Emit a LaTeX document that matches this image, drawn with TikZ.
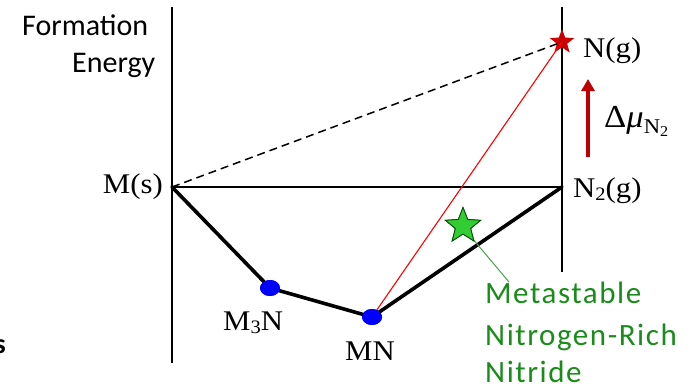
\documentclass[tikz,border=0pt]{standalone}
\usepackage{fontspec}
\setmainfont{Liberation Serif}[FakeStretch=1.08]
\newfontfamily\carl{Carlito}
\newfontfamily\carlsp{Carlito}[LetterSpace=5]
\usetikzlibrary{shapes.geometric,arrows.meta}
\definecolor{dotblue}{HTML}{0000FF}
\definecolor{arrowred}{HTML}{C00000}
\definecolor{starred}{HTML}{CC0000}
\definecolor{stargreen}{HTML}{33CC33}
\definecolor{textgreen}{HTML}{1A8C1A}
\newcommand{\mysub}[1]{\raisebox{-0.3ex}{\fontsize{19}{19}\selectfont #1}}
\begin{document}
\begin{tikzpicture}[x=1pt,y=-1pt,
  axis/.style={line width=2pt,black},
  hull/.style={line width=3.6pt,black,line cap=round,line join=round},
  phase/.style={ellipse,fill=dotblue,minimum width=20pt,minimum height=16pt,inner sep=0pt},
  serif/.style={font=\fontsize{28.5}{32}\selectfont,inner sep=0pt,anchor=base west},
  sans/.style={font=\carl\fontsize{30}{37}\selectfont,inner sep=0pt,anchor=base west},
  greentext/.style={font=\carlsp\fontsize{31}{40}\selectfont,inner sep=0pt,anchor=base west,text=textgreen},
  redstar/.style={star,star points=5,star point ratio=2.4,fill=starred,minimum size=26pt,inner sep=0pt},
  greenstar/.style={star,star points=5,star point ratio=2.3,fill=stargreen,draw=black!70!green,line width=0.8pt,minimum size=37pt,inner sep=0pt}]
\useasboundingbox (0,0) rectangle (696,391);
\clip (0,0) rectangle (696,391);
% axes
\coordinate (ltop) at (172,7);
\coordinate (lbot) at (172,363);
\coordinate (rtop) at (562,7);
\coordinate (rbot) at (562,272);
\draw[axis] (ltop) -- (lbot);
\draw[axis] (rtop) -- (rbot);
\coordinate (Ms) at (172,187);
\coordinate (N2g) at (562,187);
\draw[axis] (Ms) -- (N2g);
% phases
\node[phase] (M3N) at (270,288) {};
\node[phase] (MN) at (372,317) {};
\node[redstar] (Ng) at (562,42) {};
% dashed and red lines
\draw[line width=1.5pt,dash pattern=on 8pt off 5pt] (Ms) -- (Ng.center);
\draw[red,line width=1.1pt] (MN.center) -- (Ng.center);
% hull
\draw[hull] (Ms) -- (M3N.center) -- (MN.center) -- (N2g);
\node[phase] at (M3N) {};
\node[phase] at (MN) {};
% green star and leader
\node[greenstar] (meta) at (463,226) {};
\coordinate (leadstart) at (472,238);
\coordinate (leadend) at (509,282);
\draw[textgreen!80!white,line width=1pt] (leadstart) -- (leadend);
\node[greenstar] at (meta) {};
% red arrow
\coordinate (abot) at (588,157);
\coordinate (atop) at (588,79);
\draw[arrowred,line width=4pt,-{Triangle[length=12pt,width=13pt]}] (abot) -- (atop);
% labels
\node[serif,anchor=base east] (lMs) at (163,193) {M(s)};
\node[serif] (lNg) at (583,57) {N(g)};
\node[serif] (lN2g) at (573,197) {N\mysub{2}(g)};
\node[serif,font=\fontsize{32}{34}\selectfont] (ldmu) at (604,127) {Δ\textit{μ}\raisebox{-0.45ex}{\fontsize{21}{21}\selectfont N\raisebox{-0.35ex}{\fontsize{15}{15}\selectfont 2}}};
\node[serif] (lM3N) at (223,330) {M\mysub{3}N};
\node[serif] (lMN) at (345,360) {MN};
\node[sans] (lF1) at (22,35) {Formation};
\node[sans] (lF2) at (72,72) {Energy};
\node[greentext] (lmeta1) at (485,303) {Metastable};
\node[greentext] (lmeta2) at (485,345) {Nitrogen-Rich};
\node[greentext] (lmeta3) at (485,382) {Nitride};
\node[font=\carl\bfseries\fontsize{28}{30}\selectfont,inner sep=0pt,anchor=base east] (cut) at (6,353) {s};
\end{tikzpicture}
\end{document}
